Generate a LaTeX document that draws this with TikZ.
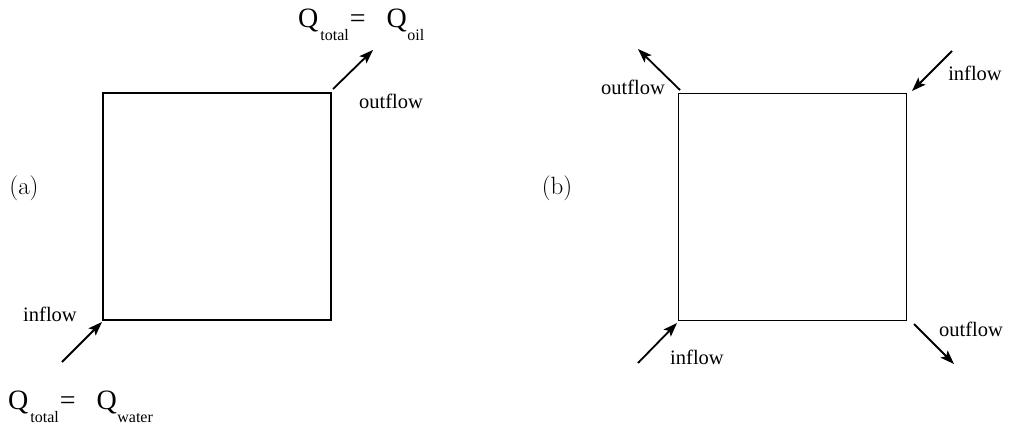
\documentclass[tikz,border=0pt]{standalone}
\usepackage{fontspec}
\newfontfamily\tnr{Liberation Serif}
\usetikzlibrary{arrows.meta}
\newcommand\qbig[1]{{\tnr\fontsize{28}{30}\selectfont #1}}
\newcommand\qsub[1]{\raisebox{-13pt}{\tnr\fontsize{16}{18}\selectfont #1}}
\newcommand\qeqn[1]{\qbig{Q}\kern2pt\qsub{total}\kern1pt\qbig{=}\hspace{21pt}\qbig{Q}\kern0.5pt\qsub{#1}}
\tikzset{
  cell/.style={draw, line width=1.3pt, inner sep=0pt, outer sep=0pt, minimum width=228pt, minimum height=227pt},
  flow/.style={line width=1.8pt, -{Stealth[length=14pt,width=10pt,inset=3pt]}},
  lbl/.style={font=\tnr\fontsize{20.5}{22}\selectfont, inner sep=0pt},
  tag/.style={font=\fontsize{25}{27}\selectfont, inner sep=0pt},
  eqn/.style={font=\tnr, inner sep=0pt, anchor=base west}
}
\begin{document}
\begin{tikzpicture}[x=1pt,y=-1pt]
\useasboundingbox (0,0) rectangle (1011,426);
% (a)
\node[cell] (boxa) at (217,206.5) {};
\node[tag] (taga) at (24,188) {(a)};
\coordinate (a1s) at (333,89);
\coordinate (a1e) at (373,50);
\coordinate (a2s) at (62,362);
\coordinate (a2e) at (102,322);
\draw[flow] (a1s) -- (a1e);
\draw[flow] (a2s) -- (a2e);
\node[lbl] (outa) at (391,101) {outflow};
\node[lbl] (ina) at (50,314) {inflow};
\node[eqn] (qoil) at (298,27) {\qeqn{oil}};
\node[eqn] (qwater) at (8,409) {\qeqn{water}};
% (b)
\node[cell] (boxb) at (792.5,207) {};
\node[tag] (tagb) at (557,188) {(b)};
\coordinate (b1s) at (680,90);
\coordinate (b1e) at (638,49);
\coordinate (b2s) at (952,51);
\coordinate (b2e) at (912,91);
\coordinate (b3s) at (638,363);
\coordinate (b3e) at (677,323);
\coordinate (b4s) at (914,324);
\coordinate (b4e) at (954,364);
\draw[flow] (b1s) -- (b1e);
\draw[flow] (b2s) -- (b2e);
\draw[flow] (b3s) -- (b3e);
\draw[flow] (b4s) -- (b4e);
\node[lbl] (outb1) at (633,87) {outflow};
\node[lbl] (inb1) at (975,73) {inflow};
\node[lbl] (inb2) at (697,357) {inflow};
\node[lbl] (outb2) at (971,329) {outflow};
\end{tikzpicture}
\end{document}
